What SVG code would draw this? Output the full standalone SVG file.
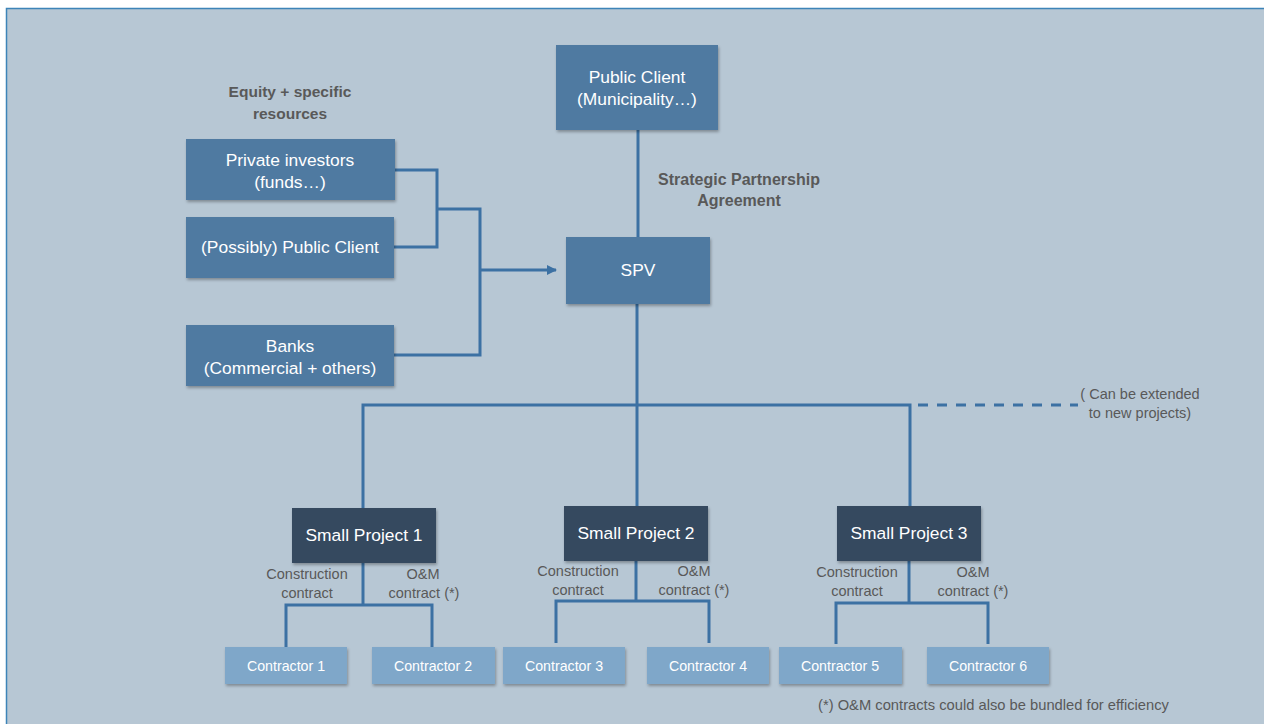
<svg xmlns="http://www.w3.org/2000/svg" width="1264" height="724" viewBox="0 0 1264 724">
<defs>
<style>
.bx{fill:#4f7aa1}
.dk{fill:#34495e}
.lt{fill:#7fa7c9}
.wt{font-family:"Liberation Sans",Arial,sans-serif;fill:#ffffff;text-anchor:middle;font-size:17.4px}
.wc{font-family:"Liberation Sans",Arial,sans-serif;fill:#ffffff;text-anchor:middle;font-size:14.2px}
.gt{font-family:"Liberation Sans",Arial,sans-serif;fill:#595959;text-anchor:middle;font-size:14.5px}
.bt{font-family:"Liberation Sans",Arial,sans-serif;fill:#595959;text-anchor:middle;font-size:16px;font-weight:bold}
.ln{fill:none;stroke:#3c71a3;stroke-width:3}
</style>
<filter id="sh" x="-10%" y="-10%" width="130%" height="140%">
<feDropShadow dx="1" dy="2" stdDeviation="1.5" flood-color="#000" flood-opacity="0.3"/>
</filter>
<marker id="ah" markerWidth="10" markerHeight="10" refX="9" refY="5" orient="auto" markerUnits="userSpaceOnUse">
<path d="M0,0 L10,5 L0,10 Z" fill="#3c71a3"/>
</marker>
</defs>
<rect x="0" y="0" width="1264" height="724" fill="#ffffff"/>
<rect x="6.5" y="8.5" width="1264" height="724" fill="#b7c7d4" stroke="#3d84b8" stroke-width="1.5"/>

<g id="connectors">
<path class="ln" d="M638,130 V237"/>
<path class="ln" d="M395,170 H437 V247 H394"/>
<path class="ln" d="M437,209 H480 V355 H394"/>
<path class="ln" d="M480,270 H556" marker-end="url(#ah)"/>
<path class="ln" d="M637,304 V506"/>
<path class="ln" d="M363,508 V405 H910 V506"/>
<path class="ln" d="M910,405 H1078" stroke-dasharray="10,9" style="stroke-dashoffset:-8"/>
<path class="ln" d="M363,563 V605"/>
<path class="ln" d="M286,647 V605 H432 V647"/>
<path class="ln" d="M636,561 V601"/>
<path class="ln" d="M556,643 V601 H709 V643"/>
<path class="ln" d="M909,561 V603"/>
<path class="ln" d="M836,644 V603 H988 V644"/>
</g>

<g id="public-client">
<rect class="bx" x="556" y="45" width="162" height="85" filter="url(#sh)"/>
<text class="wt" x="637" y="83">Public Client</text>
<text class="wt" x="637" y="105">(Municipality…)</text>
</g>
<g id="spv">
<rect class="bx" x="566" y="237" width="144" height="67" filter="url(#sh)"/>
<text class="wt" x="638" y="276">SPV</text>
</g>
<g id="private-investors">
<rect class="bx" x="186" y="139" width="209" height="61" filter="url(#sh)"/>
<text class="wt" x="290" y="166">Private investors</text>
<text class="wt" x="290" y="188">(funds…)</text>
</g>
<g id="possibly-public-client">
<rect class="bx" x="186" y="217" width="208" height="61" filter="url(#sh)"/>
<text class="wt" x="290" y="253">(Possibly) Public Client</text>
</g>
<g id="banks">
<rect class="bx" x="186" y="325" width="208" height="61" filter="url(#sh)"/>
<text class="wt" x="290" y="352">Banks</text>
<text class="wt" x="290" y="374">(Commercial + others)</text>
</g>

<g id="small-project-1">
<rect class="dk" x="292" y="508" width="144" height="55" filter="url(#sh)"/>
<text class="wt" x="364" y="541">Small Project 1</text>
</g>
<g id="small-project-2">
<rect class="dk" x="564" y="506" width="144" height="55" filter="url(#sh)"/>
<text class="wt" x="636" y="539">Small Project 2</text>
</g>
<g id="small-project-3">
<rect class="dk" x="837" y="506" width="144" height="55" filter="url(#sh)"/>
<text class="wt" x="909" y="539">Small Project 3</text>
</g>

<g id="contractor-1"><rect class="lt" x="225" y="647" width="122" height="37" filter="url(#sh)"/><text class="wc" x="286" y="670.5">Contractor 1</text></g>
<g id="contractor-2"><rect class="lt" x="372" y="647" width="123" height="37" filter="url(#sh)"/><text class="wc" x="433" y="670.5">Contractor 2</text></g>
<g id="contractor-3"><rect class="lt" x="503" y="647" width="122" height="37" filter="url(#sh)"/><text class="wc" x="564" y="670.5">Contractor 3</text></g>
<g id="contractor-4"><rect class="lt" x="647" y="647" width="122" height="37" filter="url(#sh)"/><text class="wc" x="708" y="670.5">Contractor 4</text></g>
<g id="contractor-5"><rect class="lt" x="779" y="647" width="123" height="37" filter="url(#sh)"/><text class="wc" x="840" y="670.5">Contractor 5</text></g>
<g id="contractor-6"><rect class="lt" x="927" y="647" width="122" height="37" filter="url(#sh)"/><text class="wc" x="988" y="670.5">Contractor 6</text></g>

<g id="labels">
<text class="bt" x="290" y="97" style="font-size:15.5px">Equity + specific</text>
<text class="bt" x="290" y="119" style="font-size:15.5px">resources</text>
<text class="bt" x="739" y="185">Strategic Partnership</text>
<text class="bt" x="739" y="206">Agreement</text>
<text class="gt" x="1140" y="399">( Can be extended</text>
<text class="gt" x="1140" y="418">to new projects)</text>
<text class="gt" x="307" y="579">Construction</text>
<text class="gt" x="307" y="598">contract</text>
<text class="gt" x="423" y="579">O&amp;M</text>
<text class="gt" x="424" y="598">contract (*)</text>
<text class="gt" x="578" y="576">Construction</text>
<text class="gt" x="578" y="595">contract</text>
<text class="gt" x="694" y="576">O&amp;M</text>
<text class="gt" x="694" y="595">contract (*)</text>
<text class="gt" x="857" y="577">Construction</text>
<text class="gt" x="857" y="596">contract</text>
<text class="gt" x="973" y="577">O&amp;M</text>
<text class="gt" x="973" y="596">contract (*)</text>
<text class="gt" x="818" y="710" style="text-anchor:start" textLength="351" lengthAdjust="spacingAndGlyphs">(*) O&amp;M contracts could also be bundled for efficiency</text>
</g>
</svg>
